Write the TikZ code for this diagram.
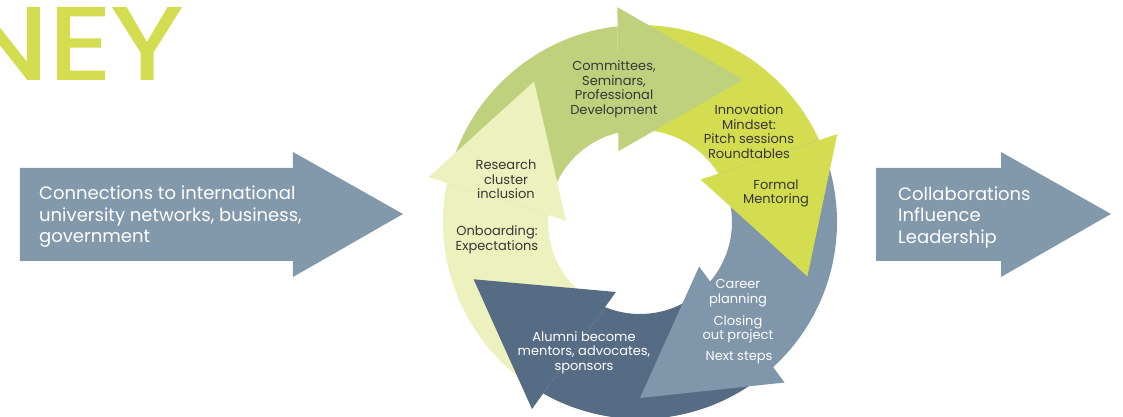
\documentclass[tikz,border=0pt]{standalone}
\usepackage{fontspec}
\setmainfont{Poppins}
\definecolor{cyclelight}{RGB}{237,241,190}
\definecolor{cyclegreen}{RGB}{192,209,125}
\definecolor{cyclelime}{RGB}{212,220,80}
\definecolor{cyclesteel}{RGB}{128,150,170}
\definecolor{cyclenavy}{RGB}{86,108,133}
\definecolor{sidearrow}{RGB}{130,152,171}
\definecolor{labelgrey}{RGB}{55,55,55}

\begin{document}
\begin{tikzpicture}[x=1pt,y=1pt,
  steplabel/.style={align=center,inner sep=0pt,font=\fontsize{13}{14.5}\selectfont},
  sidelabel/.style={align=left,anchor=west,inner sep=0pt,text=white,font=\fontsize{18}{21.5}\selectfont}]
\useasboundingbox (-640,-195) rectangle (483,222);
\node[anchor=base east,inner sep=0pt,xscale=1.2,text=cyclelime,font=\fontsize{102}{102}\selectfont\addfontfeature{FakeBold=1.6}] (title) at (-457,143) {NEY};
% side arrows
\fill[sidearrow] (-620,54) -- (-347,54) -- (-347,70) -- (-237,8) -- (-347,-55) -- (-347,-39) -- (-620,-39) -- cycle;
\node[sidelabel] (inlet) at (-601,5) {Connections to international\\university networks, business,\\government};
\fill[sidearrow] (236,54) -- (361,54) -- (361,70) -- (471,8) -- (361,-55) -- (361,-39) -- (236,-39) -- cycle;
\node[sidelabel] (outlet) at (258,5) {Collaborations\\Influence\\Leadership};
% ring bodies
\fill[cyclelight] (240.54:197) arc[start angle=240.54,end angle=168.54,radius=197] -- (175.66:92) arc[start angle=175.66,end angle=247.66,radius=92] -- cycle;
\fill[cyclegreen] (168.54:197) arc[start angle=168.54,end angle=96.54,radius=197] -- (103.66:92) arc[start angle=103.66,end angle=175.66,radius=92] -- cycle;
\fill[cyclelime] (96.54:197) arc[start angle=96.54,end angle=24.54,radius=197] -- (31.66:92) arc[start angle=31.66,end angle=103.66,radius=92] -- cycle;
\fill[cyclesteel] (24.54:197) arc[start angle=24.54,end angle=-47.46,radius=197] -- (-40.34:92) arc[start angle=-40.34,end angle=31.66,radius=92] -- cycle;
\fill[cyclenavy] (-47.46:197) arc[start angle=-47.46,end angle=-119.46,radius=197] -- (-112.34:92) arc[start angle=-112.34,end angle=-40.34,radius=92] -- cycle;
% ring heads
\fill[cyclelight] (168:216) -- (127:176) -- (179:74) -- cycle;
\fill[cyclegreen] (96:216) -- (54:176) -- (107:74) -- cycle;
\fill[cyclelime] (24:216) -- (-18:176) -- (35:74) -- cycle;
\fill[cyclesteel] (-48:216) -- (-90:176) -- (-37:74) -- cycle;
\fill[cyclenavy] (-120:216) -- (-161:176) -- (-109:74) -- cycle;
% step labels
\node[steplabel,text=labelgrey] (committees) at (-26,133) {Committees,\\Seminars,\\Professional\\Development};
\node[steplabel,text=labelgrey] (innovation) at (109,90.5) {Innovation\\Mindset:\\Pitch sessions\\Roundtables};
\node[steplabel,text=labelgrey] (mentoring) at (136,28.5) {Formal\\Mentoring};
\node[steplabel,text=labelgrey] (research) at (-134,42.5) {Research\\cluster\\inclusion};
\node[steplabel,text=labelgrey] (onboarding) at (-143,-17.5) {Onboarding:\\Expectations};
\node[steplabel,text=white] (career) at (98,-71) {Career\\planning};
\node[steplabel,text=white] (closing) at (98,-107) {Closing\\out project};
\node[steplabel,text=white] (nextsteps) at (99,-135.5) {Next steps};
\node[steplabel,text=white] (alumni) at (-56,-130.5) {Alumni become\\mentors, advocates,\\sponsors};
\end{tikzpicture}
\end{document}
